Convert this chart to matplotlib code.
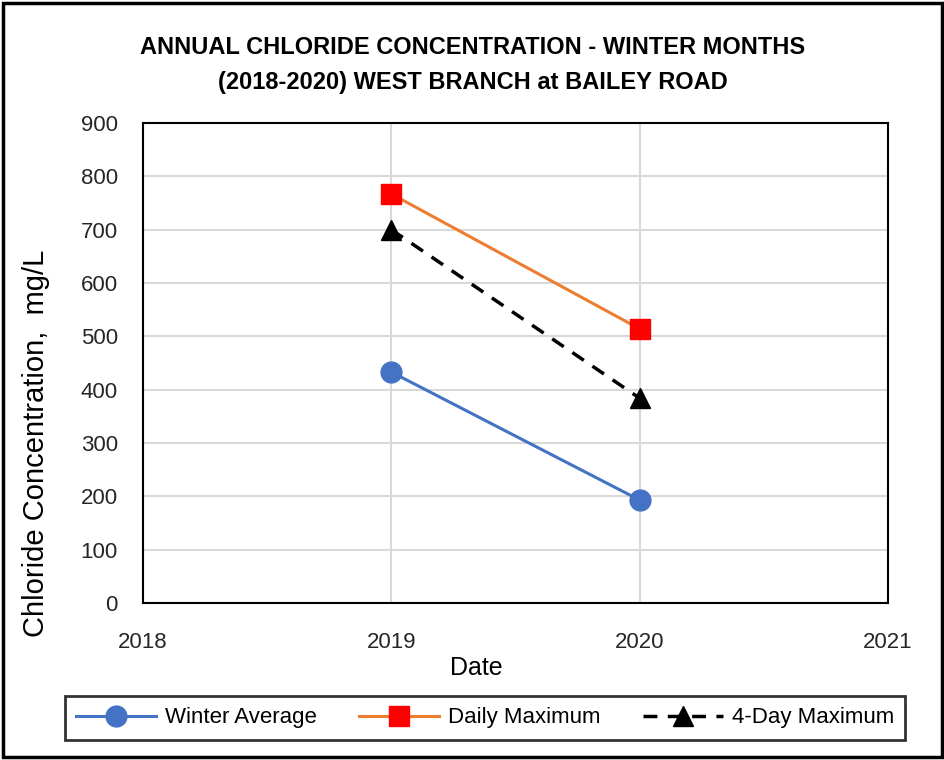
import matplotlib
matplotlib.use("Agg")
import matplotlib.pyplot as plt
from matplotlib.patches import Rectangle

plt.rcParams['font.family'] = ['Liberation Sans', 'DejaVu Sans']

years = [2019, 2020]
winter_avg = [433, 193]
daily_max = [767, 514]
four_day_max = [700, 384]
x_ticks = [2018, 2019, 2020, 2021]
y_ticks = [0, 100, 200, 300, 400, 500, 600, 700, 800, 900]

W, H = 945, 760
fig = plt.figure(figsize=(W/100, H/100), dpi=100)
ax = fig.add_axes([143/W, 1-603/H, (888-143)/W, (603-123)/H])

ax.plot(years, winter_avg, color='#4472C4', lw=2.2, marker='o', ms=15,
        markerfacecolor='#4472C4', markeredgecolor='#4472C4', label='Winter Average', zorder=3)
ax.plot(years, daily_max, color='#ED7D31', lw=2.2, marker='s', ms=15,
        markerfacecolor='#FF0000', markeredgecolor='#FF0000', label='Daily Maximum', zorder=3)
ax.plot(years, four_day_max, color='black', lw=2.5, ls=(0, (4, 3)), marker='^', ms=14,
        markerfacecolor='black', markeredgecolor='black', label='4-Day Maximum', zorder=3)

ax.set_xlim(2018, 2021)
ax.set_ylim(0, 900)
ax.set_xticks(x_ticks)
ax.set_xticklabels([str(t) for t in x_ticks])
ax.set_yticks(y_ticks)
ax.grid(True, color='#d9d9d9', lw=1.5)
ax.set_axisbelow(True)
for s in ax.spines.values():
    s.set_color('black')
    s.set_linewidth(1.5)
ax.tick_params(axis='both', length=0, labelsize=16, labelcolor='#262626')
ax.tick_params(axis='y', pad=18)
ax.tick_params(axis='x', pad=21)

ax.set_ylabel('Chloride Concentration,  mg/L', fontsize=21)
ax.yaxis.set_label_coords((50-143)/745, (603-443)/480)
ax.set_xlabel('Date', fontsize=18)
ax.xaxis.set_label_coords((476-143)/745, (603-656)/480)

fig.text(0.5, 1-48/H, 'ANNUAL CHLORIDE CONCENTRATION - WINTER MONTHS',
         ha='center', va='center', fontsize=17, fontweight='bold')
fig.text(0.5, 1-83/H, '(2018-2020) WEST BRANCH at BAILEY ROAD',
         ha='center', va='center', fontsize=17, fontweight='bold')

leg = fig.legend(loc='center', bbox_to_anchor=(485/W, 1-718/H), ncol=3, fontsize=16,
                 frameon=True, fancybox=False, edgecolor='black', handlelength=3.6,
                 columnspacing=1.9, handletextpad=0.4, borderpad=0.5)
leg.get_frame().set_linewidth(2)

fig.patches.append(Rectangle((3/W, 3/H), 1-6/W, 1-6/H, transform=fig.transFigure,
                             fill=False, edgecolor='black', lw=2.5))

fig.savefig('out.png', dpi=100)
